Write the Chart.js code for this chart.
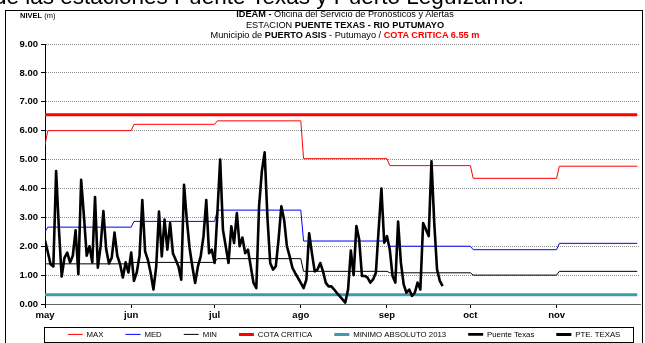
<!DOCTYPE html>
<html>
<head>
<meta charset="utf-8">
<script src="https://cdn.jsdelivr.net/npm/chart.js@4.4.0/dist/chart.umd.min.js"></script>
<style>
  html, body { margin: 0; padding: 0; background: #fff; }
  #wrap { position: relative; width: 645px; height: 343px; overflow: hidden;
          font-family: "Liberation Sans", Arial, sans-serif; color: #000; }
  #chart { position: absolute; left: 0; top: 0; }
  #heading { position: absolute; left: -6px; top: -16.5px; font-size: 22.5px; white-space: nowrap; }
  #frame { position: absolute; left: 5px; top: 10px; width: 638px; height: 345px;
           border: 1px solid #000; box-sizing: border-box; }
  #unit { position: absolute; left: 20px; top: 11px; font-size: 7.5px; white-space: nowrap; }
  #title { position: absolute; left: 0; width: 690px; top: 9.4px; text-align: center;
           font-size: 9.2px; line-height: 10.3px; white-space: nowrap; }
  #title .red { color: #ff0000; }
</style>
</head>
<body>
<div id="wrap">
  <canvas id="chart" width="683" height="343"></canvas>
  <div id="heading">de las estaciones Puente Texas y Puerto Leguízamo.</div>
  <div id="frame"></div>
  <div id="unit"><b>NIVEL</b> (m)</div>
  <div id="title">
    <b>IDEAM -</b> Oficina del Servicio de Pronósticos y Alertas<br>
    ESTACION <b>PUENTE TEXAS - RIO PUTUMAYO</b><br>
    Municipio de <b>PUERTO ASIS</b> - Putumayo / <b class="red">COTA CRITICA 6.55 m</b>
  </div>
</div>
<script>
const FONT = '"Liberation Sans", Arial, sans-serif';

// Daily level readings at Puente Texas (m), starting May 1
const puenteTexas = [
  2.2, 1.8, 1.38, 1.3, 4.6, 2.6, 0.95, 1.6, 1.78, 1.44,
  1.67, 2.55, 1.03, 4.3, 3.05, 1.67, 2.0, 1.44, 3.7, 1.26,
  2.0, 3.22, 1.9, 1.4, 1.6, 2.47, 1.67, 1.38, 0.92, 1.44,
  1.09, 1.78, 0.8, 1.09, 1.67, 3.6, 1.82, 1.53, 1.07, 0.5,
  1.3, 3.2, 1.65, 2.92, 1.88, 2.8, 1.76, 1.53, 1.3, 0.84,
  4.13, 2.92, 1.94, 1.3, 0.73, 1.3, 1.65, 2.34, 3.6, 1.76,
  1.88, 1.42, 3.15, 5.0, 2.57, 2.0, 1.42, 2.69, 2.11, 3.15,
  2.0, 2.3, 1.76, 1.88, 1.3, 0.73, 0.55, 3.4, 4.6, 5.25,
  3.0, 1.42, 1.19, 1.3, 2.23, 3.38, 2.92, 2.0, 1.65, 1.25,
  1.07, 0.9, 0.73, 0.55, 0.84, 2.45, 1.76, 1.13, 1.19, 1.42,
  1.13, 0.73, 0.61, 0.61, 0.5, 0.38, 0.27, 0.16, 0.05, 0.5,
  1.85, 1.0, 2.7, 2.23, 0.97, 0.97, 0.91, 0.74, 0.85, 1.08,
  2.58, 4.0, 2.12, 2.35, 1.89, 0.97, 0.74, 2.85, 1.43, 0.68,
  0.39, 0.5, 0.28, 0.39, 0.74, 0.5, 2.8, 2.58, 2.35, 4.94,
  2.81, 1.2, 0.8, 0.62
];

// Month axis (day offsets from May 1)
const monthStarts = [0, 31, 61, 92, 123, 153, 184];
const monthLabels = ['may', 'jun', 'jul', 'ago', 'sep', 'oct', 'nov'];
const lastDay = 213;
const axisEndDay = 214;

// Historical monthly levels (m): abr, may, jun, jul, ago, sep, oct, nov
const maxNivel = [5.5, 6.0, 6.22, 6.34, 5.03, 4.79, 4.35, 4.77];
const medNivel = [2.5, 2.66, 2.86, 3.25, 2.18, 2.0, 1.88, 2.1];
const minNivel = [1.39, 1.39, 1.44, 1.57, 1.13, 1.08, 1.0, 1.13];

const cotaCritica = 6.55;
const minimoAbsoluto2013 = 0.32;

const yTicks = [0, 1, 2, 3, 4, 5, 6, 7, 8, 9];

// Step line: each month's level held from its first day to the next month's start
function monthlySteps(vals) {
  const pts = [{ x: 0, y: vals[0] }];
  monthStarts.forEach((start, k) => {
    const end = k + 1 < monthStarts.length ? monthStarts[k + 1] : lastDay;
    pts.push({ x: start + 1, y: vals[k + 1] }, { x: end, y: vals[k + 1] });
  });
  return pts;
}

function flat(v) {
  return [{ x: 0, y: v }, { x: lastDay, y: v }];
}

// Legend sits just under the month labels, inside a thin box
const legendPlacement = {
  id: 'legendPlacement',
  afterLayout(chart) {
    const lg = chart.legend;
    if (!lg) return;
    lg.top -= 12.5;
    lg.height = lg.bottom - lg.top;
  },
  afterDraw(chart) {
    const hb = chart.legend && chart.legend.legendHitBoxes;
    if (!hb || !hb.length) return;
    const first = hb[0];
    const last = hb[hb.length - 1];
    const cy = first.top + first.height / 2;
    const x1 = Math.round(first.left - 24) + 0.5;
    const x2 = Math.round(last.left + last.width + 13) + 0.5;
    const y1 = Math.round(cy - 7.5) + 0.5;
    const ctx = chart.ctx;
    ctx.save();
    ctx.strokeStyle = '#000';
    ctx.lineWidth = 1;
    ctx.strokeRect(x1, y1, x2 - x1, 15);
    ctx.restore();
  }
};

new Chart(document.getElementById('chart'), {
  type: 'line',
  data: {
    datasets: [
      { label: 'MAX', data: monthlySteps(maxNivel), borderColor: '#ff0000', borderWidth: 1, order: 2 },
      { label: 'MED', data: monthlySteps(medNivel), borderColor: '#0000ff', borderWidth: 1, order: 2 },
      { label: 'MIN', data: monthlySteps(minNivel), borderColor: '#000000', borderWidth: 1, order: 2 },
      { label: 'COTA CRITICA', data: flat(cotaCritica), borderColor: '#ff0000', borderWidth: 3, order: 1 },
      { label: 'MINIMO ABSOLUTO 2013', data: flat(minimoAbsoluto2013), borderColor: '#3c9bb0', borderWidth: 3, order: 1 },
      { label: 'Puente Texas', data: puenteTexas.map((v, i) => ({ x: i, y: v })), borderColor: '#000000', borderWidth: 2.6, order: 0 },
      { label: 'PTE. TEXAS', data: [], borderColor: '#000000', borderWidth: 3, order: 0 }
    ]
  },
  options: {
    responsive: false,
    animation: false,
    devicePixelRatio: 1,
    layout: { padding: { top: 44, left: 5, right: 0, bottom: 0 } },
    elements: {
      point: { radius: 0, hoverRadius: 0 },
      line: { tension: 0, fill: false, borderJoinStyle: 'round' }
    },
    plugins: {
      tooltip: { enabled: false },
      legend: {
        position: 'bottom',
        align: 'center',
        maxHeight: 22,
        labels: {
          usePointStyle: true,
          pointStyle: 'line',
          pointStyleWidth: 15,
          padding: 22,
          color: '#000',
          font: { family: FONT, size: 7.8 },
          sort: (a, b) => a.datasetIndex - b.datasetIndex
        }
      }
    },
    scales: {
      x: {
        type: 'linear',
        min: 0,
        max: axisEndDay,
        afterFit: s => { s.height = 17; },
        afterBuildTicks: s => { s.ticks = monthStarts.map(v => ({ value: v })); },
        ticks: {
          autoSkip: false,
          maxRotation: 0,
          padding: 2,
          color: '#000',
          font: { family: FONT, size: 9.5, weight: 'bold' },
          callback: v => monthLabels[monthStarts.indexOf(v)]
        },
        grid: { drawOnChartArea: false, drawTicks: true, tickLength: 4, tickColor: '#000' },
        border: { color: '#666', width: 1 }
      },
      y: {
        min: 0,
        max: 9,
        afterFit: s => { s.width = 40; },
        afterBuildTicks: s => { s.ticks = yTicks.map(v => ({ value: v })); },
        ticks: {
          padding: 3,
          color: '#000',
          font: { family: FONT, size: 9.5, weight: 'bold' },
          callback: v => v.toFixed(2)
        },
        grid: { color: '#8c8c8c', tickColor: '#000', tickLength: 4, drawTicks: true },
        border: { color: '#000', width: 1, dash: [1, 1] }
      },
      yRight: {
        position: 'right',
        afterFit: s => { s.width = 43; },
        ticks: { display: false },
        grid: { display: false },
        border: { display: false }
      }
    }
  },
  plugins: [legendPlacement]
});
</script>
</body>
</html>
